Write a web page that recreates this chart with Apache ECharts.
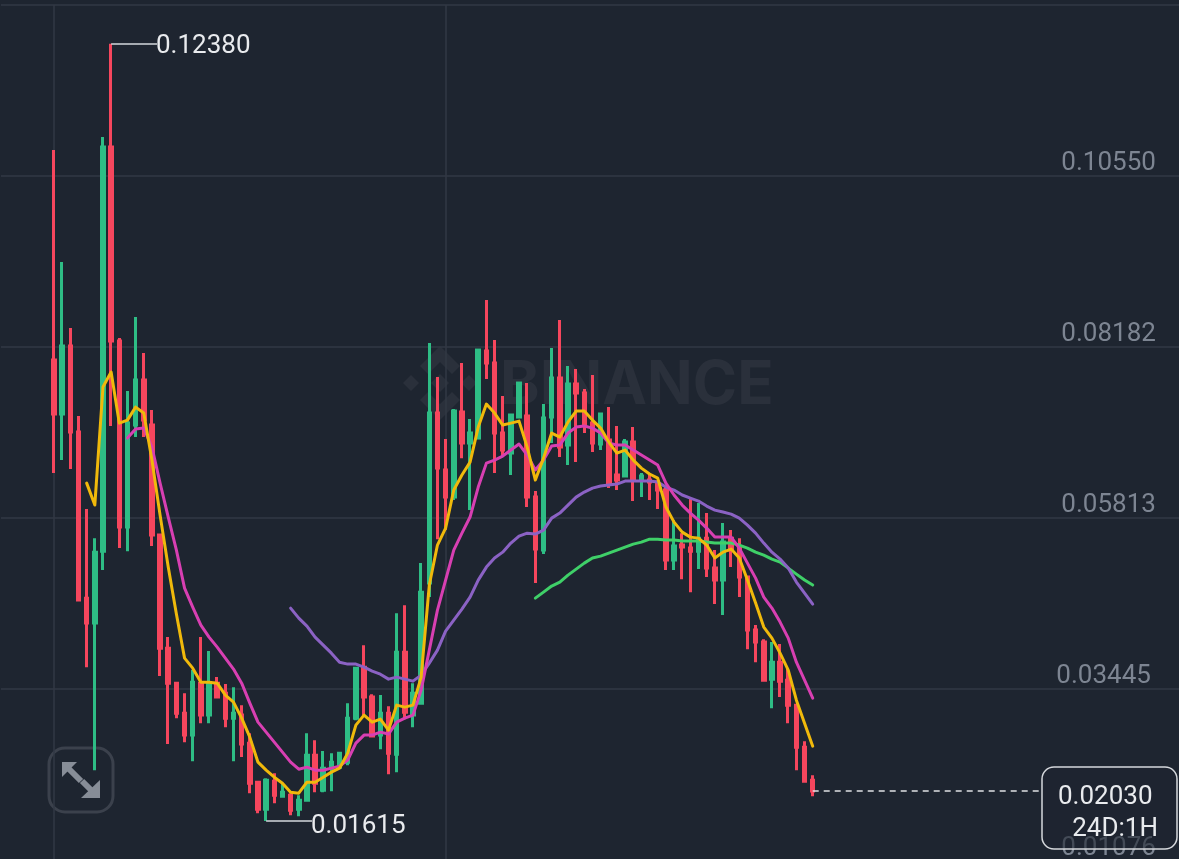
<!DOCTYPE html>
<html>
<head>
<meta charset="utf-8">
<title>Chart</title>
<script src="https://cdn.jsdelivr.net/npm/echarts@6/dist/echarts.min.js"></script>
<style>
  html, body { margin: 0; padding: 0; background: #1e2530; }
  #chart { width: 1179px; height: 859px; }
</style>
</head>
<body>
<div id="chart"></div>
<script>
// candles, oldest first
const opens = [0.08001,0.07253,0.08195,0.07003,0.04703,0.04357,0.05354,0.10951,0.08264,0.05687,0.07100,0.07724,0.07100,0.05576,0.04010,0.03525,0.03110,0.02806,0.03525,0.03083,0.03525,0.03387,0.03041,0.03083,0.02694,0.02154,0.01780,0.02168,0.01960,0.01974,0.01780,0.01905,0.02528,0.02043,0.02348,0.02362,0.02431,0.03041,0.03747,0.03332,0.02806,0.03110,0.02542,0.03955,0.03083,0.03248,0.04911,0.07266,0.06477,0.06102,0.07280,0.06850,0.06920,0.08125,0.07959,0.06989,0.06712,0.07211,0.07225,0.06102,0.05368,0.07211,0.07751,0.06823,0.07668,0.07543,0.07127,0.06837,0.06892,0.06408,0.06394,0.06864,0.06338,0.06338,0.06310,0.06200,0.05230,0.05438,0.05396,0.05354,0.05534,0.05119,0.04953,0.05534,0.05410,0.04994,0.04260,0.04094,0.03581,0.03816,0.03567,0.03221,0.02639,0.02182];
const closes = [0.07253,0.08195,0.07003,0.04676,0.04357,0.05340,0.10951,0.08264,0.05687,0.07127,0.07724,0.07169,0.05576,0.04010,0.03525,0.03110,0.02806,0.03539,0.03083,0.03525,0.03332,0.03041,0.03110,0.02681,0.02140,0.01780,0.02182,0.01974,0.02015,0.01766,0.01905,0.02528,0.02140,0.02348,0.02431,0.02556,0.03041,0.03733,0.03332,0.02792,0.03110,0.02556,0.03955,0.03124,0.03387,0.04786,0.07266,0.06504,0.06102,0.07294,0.06850,0.06989,0.08139,0.07959,0.06989,0.06754,0.07239,0.07682,0.06102,0.05382,0.07197,0.07751,0.06795,0.07668,0.07543,0.07100,0.06850,0.07253,0.06296,0.06338,0.06864,0.06338,0.06394,0.06310,0.06200,0.05230,0.05424,0.05410,0.05354,0.05534,0.05119,0.04953,0.05479,0.05368,0.04994,0.04260,0.04094,0.03567,0.03816,0.03553,0.03221,0.02639,0.02168,0.02030];
const lows = [0.06435,0.06615,0.06490,0.04676,0.03747,0.02320,0.05091,0.07086,0.05396,0.05354,0.06934,0.06934,0.05424,0.03623,0.02681,0.03041,0.02708,0.02445,0.02971,0.02971,0.03318,0.02916,0.02445,0.02501,0.02001,0.01724,0.01615,0.01863,0.01946,0.01697,0.01683,0.01905,0.02015,0.02015,0.02029,0.02348,0.02390,0.03013,0.03055,0.02778,0.02611,0.02265,0.02293,0.03027,0.02916,0.03235,0.04717,0.05520,0.05645,0.06061,0.06642,0.05922,0.06920,0.07737,0.06435,0.06657,0.06408,0.07211,0.05964,0.04911,0.05313,0.06850,0.06657,0.06546,0.06587,0.06989,0.06726,0.06754,0.06227,0.06200,0.06394,0.06047,0.06102,0.06061,0.05936,0.05091,0.05091,0.04966,0.04786,0.05105,0.04994,0.04620,0.04468,0.05133,0.04717,0.03996,0.03816,0.03567,0.03179,0.03332,0.02971,0.02320,0.02168,0.01960];
const highs = [0.10910,0.09358,0.08444,0.07225,0.05936,0.05534,0.11090,0.12380,0.08305,0.07571,0.08596,0.08097,0.07308,0.05576,0.04163,0.03525,0.03387,0.03706,0.04163,0.03969,0.03609,0.03512,0.03470,0.03221,0.02833,0.02154,0.02209,0.02278,0.02140,0.02001,0.01974,0.02833,0.02736,0.02584,0.02556,0.02570,0.03248,0.03747,0.04052,0.03373,0.03360,0.03207,0.04495,0.04606,0.03525,0.05188,0.08236,0.07765,0.06906,0.07321,0.07959,0.07183,0.08139,0.08832,0.08278,0.07502,0.07239,0.07682,0.07682,0.06186,0.07391,0.08167,0.08555,0.07918,0.07876,0.07599,0.07793,0.07266,0.07349,0.07086,0.06906,0.07072,0.06435,0.06435,0.06310,0.06241,0.05784,0.05603,0.06075,0.06019,0.05881,0.05368,0.05742,0.05645,0.05534,0.04994,0.04330,0.04135,0.04094,0.04066,0.03733,0.03235,0.02722,0.02251];

// moving averages, each one runs up to the last candle
const ma5 = [0.06296,0.05992,0.07626,0.07834,0.07127,0.07169,0.07349,0.07266,0.06615,0.05853,0.05133,0.04482,0.03872,0.03733,0.03539,0.03539,0.03525,0.03360,0.03262,0.03041,0.02778,0.02431,0.02320,0.02223,0.02140,0.02015,0.02001,0.02154,0.02154,0.02223,0.02293,0.02348,0.02556,0.02944,0.03083,0.02985,0.03027,0.02875,0.03221,0.03193,0.03221,0.03609,0.04884,0.05438,0.05673,0.06200,0.06408,0.06587,0.07072,0.07391,0.07266,0.07100,0.07127,0.07155,0.06795,0.06338,0.06642,0.06989,0.06934,0.07141,0.07294,0.07294,0.07169,0.07058,0.06864,0.06712,0.06754,0.06615,0.06504,0.06422,0.06366,0.05964,0.05756,0.05617,0.05548,0.05534,0.05438,0.05258,0.05340,0.05382,0.05258,0.04953,0.04634,0.04302,0.04149,0.03941,0.03706,0.03290,0.02971,0.02653];
const ma10 = [0.06920,0.07044,0.07058,0.06795,0.06296,0.05826,0.05368,0.04842,0.04579,0.04330,0.04163,0.04024,0.03872,0.03720,0.03525,0.03248,0.02985,0.02847,0.02708,0.02570,0.02431,0.02334,0.02362,0.02320,0.02320,0.02348,0.02376,0.02459,0.02694,0.02806,0.02806,0.02847,0.02820,0.02985,0.03041,0.03083,0.03429,0.03983,0.04537,0.04953,0.05368,0.05603,0.05826,0.06241,0.06573,0.06615,0.06671,0.06754,0.06837,0.06685,0.06477,0.06615,0.06809,0.06823,0.06989,0.07072,0.07086,0.07058,0.06989,0.06850,0.06823,0.06823,0.06754,0.06685,0.06615,0.06546,0.06296,0.06131,0.05992,0.05881,0.05784,0.05673,0.05548,0.05548,0.05548,0.05396,0.05188,0.04980,0.04717,0.04565,0.04371,0.04149,0.03816,0.03567,0.03318];
const ma30 = [0.04565,0.04426,0.04316,0.04163,0.04052,0.03941,0.03816,0.03789,0.03789,0.03747,0.03692,0.03650,0.03581,0.03609,0.03581,0.03553,0.03637,0.03803,0.03983,0.04246,0.04399,0.04551,0.04717,0.04953,0.05133,0.05258,0.05340,0.05465,0.05562,0.05603,0.05590,0.05645,0.05811,0.05881,0.05992,0.06102,0.06172,0.06227,0.06255,0.06269,0.06283,0.06324,0.06324,0.06324,0.06324,0.06310,0.06241,0.06200,0.06131,0.06089,0.06047,0.05978,0.05922,0.05895,0.05867,0.05811,0.05715,0.05603,0.05465,0.05340,0.05244,0.05119,0.04925,0.04773,0.04620];
const ma60 = [0.04703,0.04786,0.04870,0.04925,0.05022,0.05105,0.05188,0.05258,0.05285,0.05326,0.05368,0.05410,0.05451,0.05479,0.05520,0.05520,0.05507,0.05507,0.05493,0.05493,0.05493,0.05479,0.05465,0.05465,0.05465,0.05438,0.05396,0.05340,0.05299,0.05244,0.05202,0.05119,0.05036,0.04953,0.04884];

// price scale
const gridPrices = [0.01076, 0.03445, 0.05813, 0.08182, 0.10550, 0.12918];
const tickLabels = [0.01076, 0.03445, 0.05813, 0.08182, 0.10550];

const highPrice = 0.12380;
const lowPrice = 0.01615;
const lastPrice = 0.02030;
const countdown = '24D:1H';

// 6 empty slots before the first candle, empty slots after the last one
const slotsBefore = 6;
const slots = Array.from({ length: 145 }, (_, i) => String(i));
const slotOf = (candle) => slots[slotsBefore + candle];
const dayLines = [slotOf(0), slotOf(48)];

const candles = Array(slotsBefore).fill('-').concat(
    opens.map((o, i) => [o, closes[i], lows[i], highs[i]])
);

function alignMA(list) {
    return Array(slotsBefore + opens.length - list.length).fill(null).concat(list);
}

function maSeries(name, list, color) {
    return {
        name: name,
        type: 'line',
        data: alignMA(list),
        showSymbol: false,
        symbol: 'none',
        z: 4,
        silent: true,
        lineStyle: { color: color, width: 3, cap: 'round', join: 'round' }
    };
}

const txt = 'Roboto';
const bg = '#1e2530';
const gridColor = '#323945';
const logoColor = '#2a303b';
const btnColor = '#878d97';

let chart = echarts.init(document.getElementById('chart'), null, { renderer: 'canvas' });

let option = {
    animation: false,
    backgroundColor: bg,
    grid: { left: 1, top: 5, width: 1182.9, height: 855, outerBoundsMode: 'none' },
    xAxis: {
        type: 'category',
        data: slots,
        axisLine: { show: false },
        axisTick: { show: false },
        axisLabel: { show: false },
        splitLine: { show: false }
    },
    yAxis: {
        type: 'value',
        position: 'right',
        min: gridPrices[0],
        max: gridPrices[5],
        axisLine: { show: false },
        axisTick: { show: false, customValues: gridPrices },
        splitLine: { show: true, lineStyle: { color: gridColor, width: 1.5 } },
        axisLabel: {
            customValues: tickLabels,
            inside: true,
            margin: 28,
            align: 'right',
            verticalAlign: 'bottom',
            lineHeight: 24,
            color: '#7d8592',
            fontFamily: txt,
            fontSize: 26,
            // this one label sits a little to the left in the reference
            formatter: (v) => v === 0.03445 ? '{shift|' + v.toFixed(5) + '}' : v.toFixed(5),
            rich: {
                shift: { padding: [0, 5, 0, 0], color: '#7d8592', fontFamily: txt, fontSize: 26, lineHeight: 24 }
            }
        }
    },
    series: [
        {
            // vertical grid lines, under the candles
            type: 'line',
            data: [],
            z: 1,
            markLine: {
                z: 1,
                silent: true,
                symbol: 'none',
                label: { show: false },
                lineStyle: { color: gridColor, width: 1.5, type: 'solid' },
                data: dayLines.map((d) => ({ xAxis: d }))
            }
        },
        {
            type: 'candlestick',
            data: candles,
            barWidth: 3,
            z: 2,
            silent: true,
            itemStyle: {
                color: '#2ebd85',
                color0: '#f6465d',
                borderColor: '#2ebd85',
                borderColor0: '#f6465d',
                borderWidth: 3
            }
        },
        maSeries('MA60', ma60, '#3fd068'),
        maSeries('MA30', ma30, '#8b62c4'),
        maSeries('MA10', ma10, '#d83fb2'),
        maSeries('MA5', ma5, '#f0b90b'),
        {
            // high, low and last price markers
            type: 'line',
            data: [],
            z: 6,
            markLine: {
                silent: true,
                symbol: 'none',
                data: [
                    [
                        { coord: [slotOf(7), highPrice], label: { formatter: highPrice.toFixed(5), offset: [-1, 3] } },
                        { coord: [slotOf(7), highPrice], x: 157 }
                    ],
                    [
                        { coord: [slotOf(26), lowPrice], label: { formatter: lowPrice.toFixed(5), offset: [-1, 5] } },
                        { coord: [slotOf(26), lowPrice], x: 312 }
                    ],
                    [
                        {
                            coord: [slotOf(93), lastPrice],
                            lineStyle: { type: [6, 5], width: 1.5, color: '#dfe1e4' },
                            label: { show: false }
                        },
                        { coord: [slotOf(93), lastPrice], x: 1040 }
                    ]
                ],
                lineStyle: { type: 'solid', color: '#d5d8dc', width: 1.5 },
                label: {
                    show: true,
                    position: 'end',
                    distance: 0,
                    color: '#e9ebee',
                    fontFamily: txt,
                    fontSize: 26
                }
            }
        }
    ],
    graphic: [
        // watermark
        {
            type: 'group',
            x: 440,
            y: 383,
            z: 0,
            silent: true,
            children: [
                { type: 'polygon', shape: { points: [[0, -37], [20, -17], [12, -9], [0, -21], [-12, -9], [-20, -17]] }, style: { fill: logoColor } },
                { type: 'polygon', shape: { points: [[0, 37], [20, 17], [12, 9], [0, 21], [-12, 9], [-20, 17]] }, style: { fill: logoColor } },
                { type: 'polygon', shape: { points: [[0, -9], [9, 0], [0, 9], [-9, 0]] }, style: { fill: logoColor } },
                { type: 'polygon', shape: { points: [[-29, -8], [-21, 0], [-29, 8], [-37, 0]] }, style: { fill: logoColor } },
                { type: 'polygon', shape: { points: [[29, -8], [37, 0], [29, 8], [21, 0]] }, style: { fill: logoColor } }
            ]
        },
        {
            type: 'text',
            x: 500,
            y: 386,
            z: 0,
            silent: true,
            style: {
                text: 'BINANCE',
                fill: logoColor,
                font: '700 60px Inter',
                textAlign: 'left',
                textVerticalAlign: 'middle'
            }
        },
        // expand button
        {
            type: 'group',
            z: 10,
            silent: true,
            children: [
                {
                    type: 'rect',
                    shape: { x: 49, y: 748, width: 64, height: 64, r: 16 },
                    style: { fill: 'rgba(30,37,48,0.72)', stroke: '#3b414c', lineWidth: 3 }
                },
                { type: 'polygon', shape: { points: [[62, 762], [77, 762], [62, 777]] }, style: { fill: btnColor } },
                { type: 'line', shape: { x1: 68, y1: 768, x2: 81, y2: 781 }, style: { stroke: btnColor, lineWidth: 6 } },
                { type: 'polygon', shape: { points: [[100, 798], [100, 780], [81, 798]] }, style: { fill: btnColor } },
                { type: 'line', shape: { x1: 93, y1: 792, x2: 82, y2: 781 }, style: { stroke: btnColor, lineWidth: 6 } }
            ]
        },
        // last price box
        {
            type: 'rect',
            z: 10,
            silent: true,
            shape: { x: 1042, y: 767, width: 135, height: 82, r: 12 },
            style: { fill: 'rgba(30,37,48,0.6)', stroke: '#d5d8dc', lineWidth: 1.5 }
        },
        {
            type: 'text',
            x: 1058,
            y: 797,
            z: 11,
            silent: true,
            style: {
                text: lastPrice.toFixed(5),
                fill: '#e9ebee',
                font: '26px Roboto',
                textAlign: 'left',
                textVerticalAlign: 'middle'
            }
        },
        {
            type: 'text',
            x: 1158,
            y: 829,
            z: 11,
            silent: true,
            style: {
                text: countdown,
                fill: '#e9ebee',
                font: '26px Roboto',
                textAlign: 'right',
                textVerticalAlign: 'middle'
            }
        }
    ]
};

chart.setOption(option);
</script>
</body>
</html>
